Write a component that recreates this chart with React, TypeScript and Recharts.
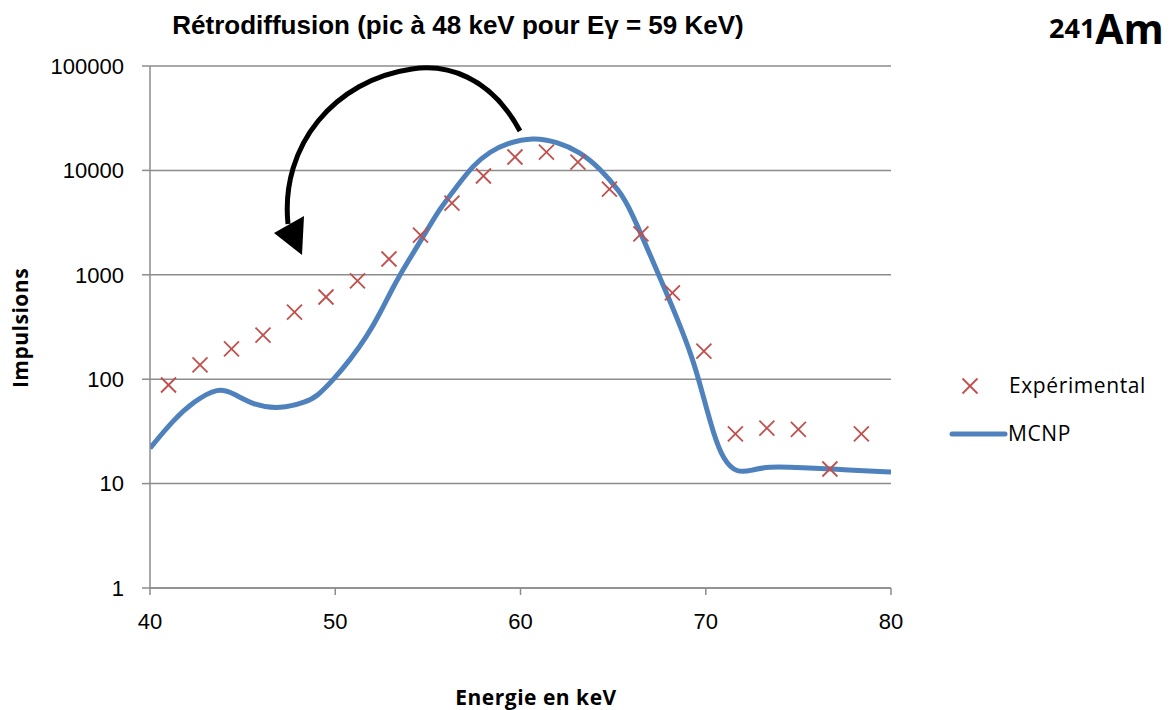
import React from 'react';
import { ComposedChart, Line, Scatter, XAxis, YAxis, CartesianGrid } from 'recharts';

// Experimental points (keV, counts)
const expEnergy = [41.0, 42.7, 44.4, 46.1, 47.8, 49.5, 51.2, 52.9, 54.6, 56.3, 58.0, 59.7, 61.4, 63.1, 64.8, 66.5, 68.2, 69.9, 71.6, 73.3, 75.0, 76.7, 78.4];
const expCounts = [88, 137, 195, 265, 440, 613, 873, 1417, 2405, 4870, 8840, 13440, 15000, 12030, 6630, 2460, 670, 186, 30, 34, 33, 13.8, 30];

// MCNP simulated curve
const mcnpEnergy = [40, 41.26, 42.34, 43.69, 44.5, 45.58, 47.02, 48.46, 49.0, 49.89, 50.8, 51.7, 52.42, 53.13, 53.86, 54.75, 55.65, 56.56, 57.45, 58.35, 59.25, 60.69, 61.95, 63.21, 64.29, 65.37, 65.91, 67.35, 68.43, 69.33, 69.87, 70.41, 70.95, 71.67, 72.5, 73.3, 75.1, 77.8, 80];
const mcnpCounts = [21.8, 40.7, 60.8, 84, 73.3, 56.6, 51.5, 60.8, 68, 98.3, 153, 255, 428, 770, 1288, 2318, 4335, 6980, 11270, 15100, 18190, 20800, 18830, 15100, 10470, 6250, 4335, 1112, 397, 153, 68, 30.3, 16.8, 12.6, 13.4, 14.6, 14.3, 13.5, 12.9];

const xTicks = [40, 50, 60, 70, 80];
const yTicks = [1, 10, 100, 1000, 10000, 100000];

const expData = expEnergy.map((e, i) => ({ e, v: expCounts[i] }));
const mcnpData = mcnpEnergy.map((e, i) => ({ e, v: mcnpCounts[i] }));

const RED = '#C0504D';
const BLUE = '#4F81BD';
const GRID = '#8c8c8c';
const LABEL_FONT = 'Open Sans, sans-serif';

const Cross = (props: any) => {
    const { cx, cy } = props;
    if (cx == null || cy == null) return null;
    const s = 7.5;
    return (
        <g stroke={RED} strokeWidth={1.8}>
            <line x1={cx - s} y1={cy - s} x2={cx + s} y2={cy + s} />
            <line x1={cx - s} y1={cy + s} x2={cx + s} y2={cy - s} />
        </g>
    );
};

export default function App() {
    return (
        <div style={{ position: 'absolute', left: 0, top: 0, width: 1176, height: 710, background: '#fff' }}>
            <ComposedChart
                width={1176}
                height={710}
                margin={{ top: 66, right: 285, bottom: 82, left: 50 }}
            >
                <CartesianGrid horizontal vertical={false} stroke={GRID} strokeWidth={1.5} />
                <XAxis
                    dataKey="e"
                    type="number"
                    domain={[40, 80]}
                    ticks={xTicks}
                    height={40}
                    allowDataOverflow
                    stroke={GRID}
                    strokeWidth={1.5}
                    tickSize={7}
                    tickMargin={18}
                    tick={{ fill: '#000', fontSize: 22, fontFamily: 'Liberation Sans, Arial' }}
                />
                <YAxis
                    dataKey="v"
                    scale="log"
                    domain={[1, 100000]}
                    ticks={yTicks}
                    width={100}
                    allowDataOverflow
                    stroke={GRID}
                    strokeWidth={1.5}
                    tickSize={8}
                    tickMargin={18}
                    tick={{ fill: '#000', fontSize: 22, fontFamily: 'Liberation Sans, Arial' }}
                />
                <Scatter data={expData} dataKey="v" shape={<Cross />} isAnimationActive={false} />
                <Line
                    data={mcnpData}
                    dataKey="v"
                    type="basis"
                    stroke={BLUE}
                    strokeWidth={5}
                    dot={false}
                    isAnimationActive={false}
                />
            </ComposedChart>

            {/* arrow annotation */}
            <svg width={1176} height={710} style={{ position: 'absolute', left: 0, top: 0, pointerEvents: 'none' }}>
                <path
                    d="M 520 131 C 490 75 445 64 412 69 C 335 80 280 145 288 224"
                    fill="none"
                    stroke="#000"
                    strokeWidth={5}
                />
                <polygon points="274,233 304,216 302,255" fill="#000" />
            </svg>

            <div style={{ position: 'absolute', left: 0, width: 916, top: 9, textAlign: 'center', fontFamily: 'Liberation Sans, Arial', fontWeight: 'bold', fontSize: 26, lineHeight: '32px' }}>
                Rétrodiffusion (pic à 48 keV pour Eγ = 59 KeV)
            </div>
            <div style={{ position: 'absolute', left: 1049, top: 0, fontFamily: LABEL_FONT, fontWeight: 'bold', whiteSpace: 'nowrap' }}>
                <sup style={{ fontSize: 27 }}>241</sup>
                <span style={{ fontSize: 41 }}>Am</span>
            </div>
            <div style={{ position: 'absolute', left: 20, top: 328, transform: 'translate(-50%, -50%) rotate(-90deg)', fontFamily: LABEL_FONT, fontWeight: 'bold', fontSize: 21, letterSpacing: 0.5, whiteSpace: 'nowrap' }}>
                Impulsions
            </div>
            <div style={{ position: 'absolute', left: 536, top: 697, transform: 'translate(-50%, -50%)', fontFamily: LABEL_FONT, fontWeight: 'bold', fontSize: 21, letterSpacing: 0.5, whiteSpace: 'nowrap' }}>
                Energie en keV
            </div>

            {/* legend */}
            <svg width={80} height={80} style={{ position: 'absolute', left: 940, top: 370 }}>
                <g stroke={RED} strokeWidth={1.8}>
                    <line x1={22.5} y1={8.5} x2={37.5} y2={23.5} />
                    <line x1={22.5} y1={23.5} x2={37.5} y2={8.5} />
                </g>
                <line x1={12} y1={64} x2={65} y2={64} stroke={BLUE} strokeWidth={5} strokeLinecap="round" />
            </svg>
            <div style={{ position: 'absolute', left: 1009, top: 371, fontFamily: LABEL_FONT, fontSize: 21, letterSpacing: 0.6, whiteSpace: 'nowrap' }}>Expérimental</div>
            <div style={{ position: 'absolute', left: 1008, top: 419, fontFamily: LABEL_FONT, fontSize: 21, letterSpacing: 0.6, whiteSpace: 'nowrap' }}>MCNP</div>
        </div>
    );
}
